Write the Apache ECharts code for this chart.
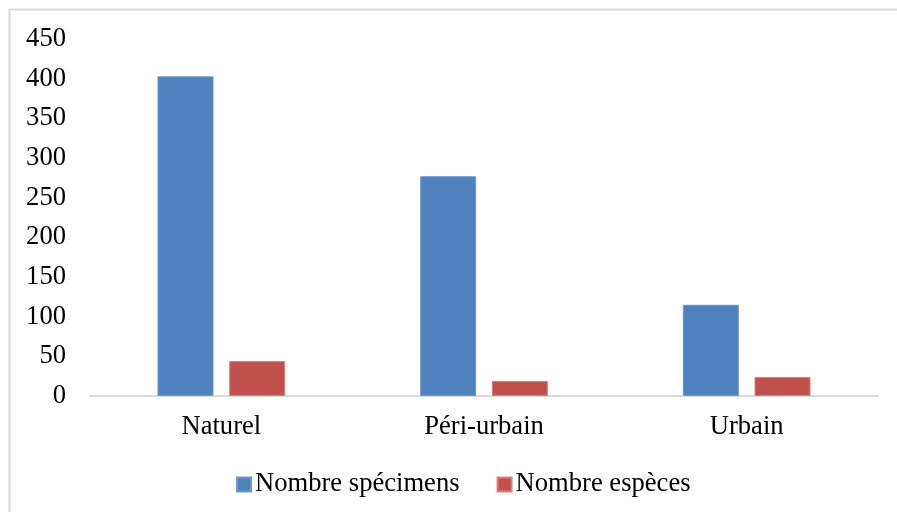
<!DOCTYPE html>
<html><head><meta charset="utf-8">
<script src="https://cdn.jsdelivr.net/npm/echarts@6/dist/echarts.min.js"></script>
<style>html,body{margin:0;padding:0;background:#fff}#c{width:897px;height:512px}</style>
</head><body><div id="c"></div>
<script>
const categories = ['Naturel', 'Péri-urbain', 'Urbain'];
const specimens = [403, 277, 115];
const especes = [44, 19, 24];
const yTicks = [0, 450, 50];
const seriesNames = ['Nombre spécimens', 'Nombre espèces'];

const font = '"Liberation Serif", "Times New Roman", serif';
const fs = 26.6;
const chart = echarts.init(document.getElementById('c'), null, {renderer: 'canvas'});
chart.setOption({
  animation: false,
  backgroundColor: '#fff',
  graphic: [{
    type: 'rect', shape: {x: 9.5, y: 9.5, width: 1000, height: 600},
    style: {fill: 'none', stroke: '#d9d9d9', lineWidth: 2}, silent: true, z: -1
  }],
  grid: {left: 90, right: 19, top: 39, bottom: 116, containLabel: false},
  legend: {
    top: 466, left: 231, itemWidth: 14, itemHeight: 14, itemGap: 37,
    icon: 'rect',
    textStyle: {fontFamily: font, fontSize: fs, color: '#000', padding: [0, 0, 0, -1]},
    data: seriesNames
  },
  xAxis: {
    type: 'category', data: categories,
    axisLine: {lineStyle: {color: '#d9d9d9', width: 2}},
    axisTick: {show: false},
    axisLabel: {fontFamily: font, fontSize: fs, color: '#000', margin: 18}
  },
  yAxis: {
    type: 'value', min: yTicks[0], max: yTicks[1], interval: yTicks[2],
    axisLine: {show: false}, axisTick: {show: false}, splitLine: {show: false},
    axisLabel: {fontFamily: font, fontSize: fs, color: '#000', margin: 24}
  },
  series: [
    {name: seriesNames[0], type: 'bar', data: specimens, barWidth: 56, barGap: '28%',
     itemStyle: {color: '#4f81bd', borderColor: '#6f98cc', borderWidth: 1}},
    {name: seriesNames[1], type: 'bar', data: especes, barWidth: 56,
     itemStyle: {color: '#c0504d', borderColor: '#d9807d', borderWidth: 1}}
  ]
});
</script></body></html>
